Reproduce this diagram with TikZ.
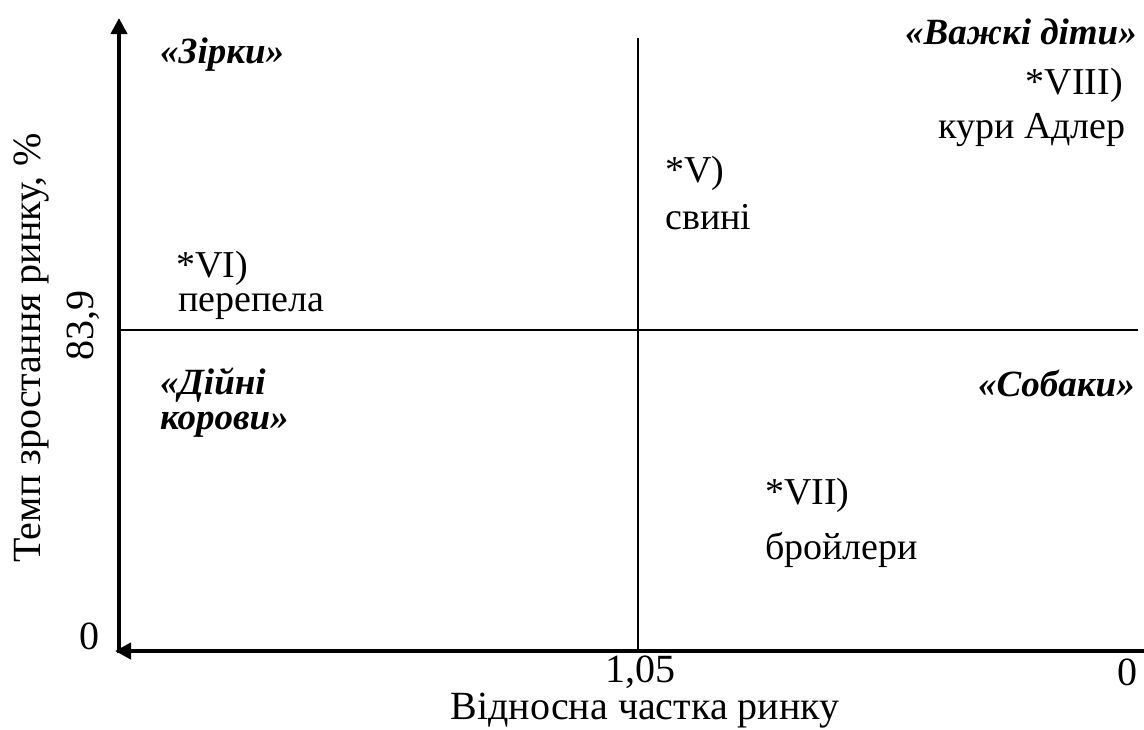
\documentclass[tikz,border=0pt]{standalone}
\usepackage{fontspec}
\setmainfont{Liberation Serif}
\usetikzlibrary{arrows.meta}
\tikzset{
lbl/.style={font=\fontsize{38}{44}\selectfont, inner sep=0pt},
axislbl/.style={font=\fontsize{40}{46}\selectfont, inner sep=0pt},
quadlabel/.style={font=\fontsize{37}{43}\selectfont\bfseries\itshape, inner sep=0pt},
axis/.style={line width=4.6pt, -{Triangle[length=16pt,width=16pt]}},
divider/.style={line width=2.4pt}
}
\begin{document}
\begin{tikzpicture}[x=1pt,y=-1pt]
  \useasboundingbox (0,0) rectangle (1144,729);

  % Axes
  \coordinate (origin) at (119,653);
  \coordinate (ytop) at (119,18);
  \coordinate (xright) at (1144,651);
  \coordinate (xleft) at (115,651);
  \draw[axis] (xright) -- (xleft);
  \draw[axis] (origin) -- (ytop);

  % Quadrant dividers
  \coordinate (vtop) at (638,38);
  \coordinate (vbot) at (638,651);
  \coordinate (hleft) at (119,330);
  \coordinate (hright) at (1138,330);
  \draw[divider] (vtop) -- (vbot);
  \draw[divider] (hleft) -- (hright);

  % Quadrant names
  \node[quadlabel, anchor=west] (stars) at (160,55) {«Зірки»};
  \node[quadlabel, anchor=east] (hard) at (1137,32) {«Важкі діти»};
  \node[quadlabel, anchor=west] (cows1) at (160,385) {«Дійні};
  \node[quadlabel, anchor=west] (cows2) at (160,425) {корови»};
  \node[quadlabel, anchor=east] (dogs) at (1135,383) {«Собаки»};

  % Points
  \node[lbl, anchor=east] (p8) at (1123,85) {*VIII)};
  \node[lbl, anchor=east] (p8n) at (1126,130) {кури Адлер};
  \node[lbl, anchor=west] (p5) at (665,173) {*V)};
  \node[lbl, anchor=west] (p5n) at (665,217) {свині};
  \node[lbl, anchor=west] (p6) at (176,268) {*VI)};
  \node[lbl, anchor=west] (p6n) at (178,307) {перепела};
  \node[lbl, anchor=west] (p7) at (765,495) {*VII)};
  \node[lbl, anchor=west] (p7n) at (765,550) {бройлери};

  % Axis labels
  \node[axislbl] (yzero) at (89,636) {0};
  \node[axislbl, rotate=90] (ymid) at (83,325) {83,9};
  \node[axislbl, rotate=90] (ytitle) at (32,348) {Темп зростання ринку, \%};
  \node[axislbl] (xmid) at (640,672) {1,05};
  \node[axislbl] (xzero) at (1127,672) {0};
  \node[axislbl] (xtitle) at (645,711) {Відносна частка ринку};
\end{tikzpicture}
\end{document}
